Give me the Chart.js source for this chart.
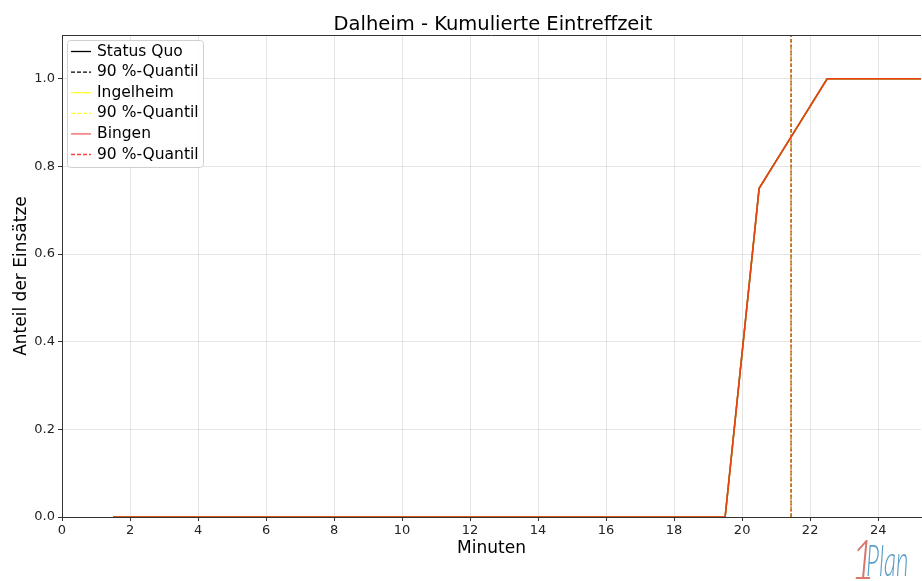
<!DOCTYPE html>
<html><head><meta charset="utf-8">
<script src="https://cdn.jsdelivr.net/npm/chart.js@4/dist/chart.umd.min.js"></script>
<style>html,body{margin:0;padding:0;background:#fff}#wrap{width:922px;height:581px;position:relative}</style>
</head><body><div id="wrap"><canvas id="c" width="922" height="581"></canvas></div>
<script>
const titleText = "Dalheim - Kumulierte Eintreffzeit";
const minutes = [1.5,2.5,3.5,4.5,5.5,6.5,7.5,8.5,9.5,10.5,11.5,12.5,13.5,14.5,15.5,16.5,17.5,18.5,19.5,20.5,21.5,22.5,23.5,24.5,25.5];
const statusQuo = [0,0,0,0,0,0,0,0,0,0,0,0,0,0,0,0,0,0,0,0.75,0.875,1,1,1,1];
const ingelheim = [0,0,0,0,0,0,0,0,0,0,0,0,0,0,0,0,0,0,0,0.75,0.875,1,1,1,1];
const bingen    = [0,0,0,0,0,0,0,0,0,0,0,0,0,0,0,0,0,0,0,0.75,0.875,1,1,1,1];
const quantileStatusQuo = 21.44;
const quantileIngelheim = 21.44;
const quantileBingen = 21.44;
const xTicks = [0,2,4,6,8,10,12,14,16,18,20,22,24];
const yTicks = [0,0.2,0.4,0.6,0.8,1.0];

const pts = (ys) => minutes.map((x,i)=>({x, y: ys[i]}));
const vline = (q) => [{x:q,y:0},{x:q,y:1.1}];
const FONT = "'DejaVu Sans', sans-serif";

const datasets = [
  {label:'Status Quo', data:pts(statusQuo), borderColor:'#000000', borderWidth:1.5, order:6},
  {label:'90 %-Quantil', data:vline(quantileStatusQuo), borderColor:'#000000', borderWidth:1.2, borderDash:[4,2], order:5},
  {label:'Ingelheim', data:pts(ingelheim), borderColor:'rgba(255,255,0,0.8)', borderWidth:1.5, order:4},
  {label:'90 %-Quantil', data:vline(quantileIngelheim), borderColor:'rgba(255,255,0,0.8)', borderWidth:1.2, borderDash:[4,2], order:3},
  {label:'Bingen', data:pts(bingen), borderColor:'rgba(240,30,20,0.8)', borderWidth:1.6, order:2},
  {label:'90 %-Quantil', data:vline(quantileBingen), borderColor:'rgba(255,40,20,0.7)', borderWidth:1.2, borderDash:[3,2], order:1}
].map(d=>Object.assign({pointRadius:0, fill:false, tension:0}, d));

const legendSwatch = ['#000000','#000000','#ffff30','#ffff30','#f06060','#ff4040'];

const deco = {
  id:'deco',
  afterDraw(chart){
    const ctx = chart.ctx, a = chart.chartArea;
    ctx.save();
    // top spine
    ctx.strokeStyle = '#333'; ctx.lineWidth = 1;
    ctx.beginPath(); ctx.moveTo(a.left, a.top+0.5); ctx.lineTo(a.right, a.top+0.5); ctx.stroke();
    // title
    ctx.fillStyle = '#000'; ctx.font = "19.5px " + FONT; ctx.textAlign='center'; ctx.textBaseline='alphabetic';
    ctx.fillText(titleText, 493, 30);
    // legend
    const lx = 67, ly = 40, lw = 136, lh = 127;
    ctx.fillStyle = 'rgba(255,255,255,0.85)';
    ctx.strokeStyle = '#d0d0d0'; ctx.lineWidth = 1;
    ctx.beginPath(); ctx.roundRect(lx+0.5, ly+0.5, lw, lh, 3); ctx.fill(); ctx.stroke();
    ctx.font = "15.5px " + FONT; ctx.textAlign='left'; ctx.textBaseline='middle';
    chart.data.datasets.forEach((d,i)=>{
      const y = ly + 11.5 + i*20.6;
      ctx.strokeStyle = legendSwatch[i]; ctx.lineWidth = 1.3;
      ctx.setLineDash(d.borderDash ? [4,2] : []);
      ctx.beginPath(); ctx.moveTo(lx+4, y); ctx.lineTo(lx+24, y); ctx.stroke();
      ctx.setLineDash([]);
      ctx.fillStyle = '#000'; ctx.fillText(d.label, lx+30, y);
    });
    // logo
    ctx.textBaseline='alphabetic'; ctx.textAlign='left';
    ctx.save();
    ctx.translate(851, 579); ctx.scale(0.75, 1);
    ctx.font = "italic 300 56px Lato, 'DejaVu Sans', sans-serif";
    ctx.fillStyle = '#d9756b'; ctx.fillText('1', 0, 0);
    ctx.restore();
    ctx.save();
    ctx.translate(866, 576); ctx.scale(0.55, 1);
    ctx.font = "italic 300 44px Lato, 'DejaVu Sans', sans-serif";
    ctx.fillStyle = '#5a9fc6'; ctx.fillText('Plan', 0, 0);
    ctx.restore();
    ctx.restore();
  }
};

new Chart(document.getElementById('c'), {
  type:'line',
  data:{datasets},
  options:{
    responsive:false, animation:false, devicePixelRatio:1,
    layout:{padding:{left:11,right:1,top:35,bottom:22}},
    plugins:{legend:{display:false}, title:{display:false}, tooltip:{enabled:false}},
    scales:{
      x:{type:'linear', min:0, max:25.26,
        afterBuildTicks:(s)=>{s.ticks = xTicks.map(v=>({value:v}));},
        afterFit:(s)=>{s.height = 42;},
        ticks:{font:{family:FONT,size:13}, color:'#222', padding:2, maxRotation:0, autoSkip:false, callback:(v)=>String(v)},
        grid:{color:'rgba(0,0,0,0.1)', tickColor:'#333', tickLength:4, drawTicks:true},
        border:{color:'#333', width:1},
        title:{display:true, text:'Minuten', font:{family:FONT,size:17}, color:'#000', padding:{top:0,bottom:0}}
      },
      y:{type:'linear', min:0, max:1.1,
        afterBuildTicks:(s)=>{s.ticks = yTicks.map(v=>({value:v}));},
        afterFit:(s)=>{s.width = 51;},
        ticks:{font:{family:FONT,size:13}, color:'#222', padding:3, autoSkip:false, callback:(v)=>v.toFixed(1)},
        grid:{color:'rgba(0,0,0,0.1)', tickColor:'#333', tickLength:4},
        border:{color:'#333', width:1},
        title:{display:true, text:'Anteil der Einsätze', font:{family:FONT,size:17}, color:'#000', padding:{top:0,bottom:0}}
      }
    }
  },
  plugins:[deco]
});
</script></body></html>
